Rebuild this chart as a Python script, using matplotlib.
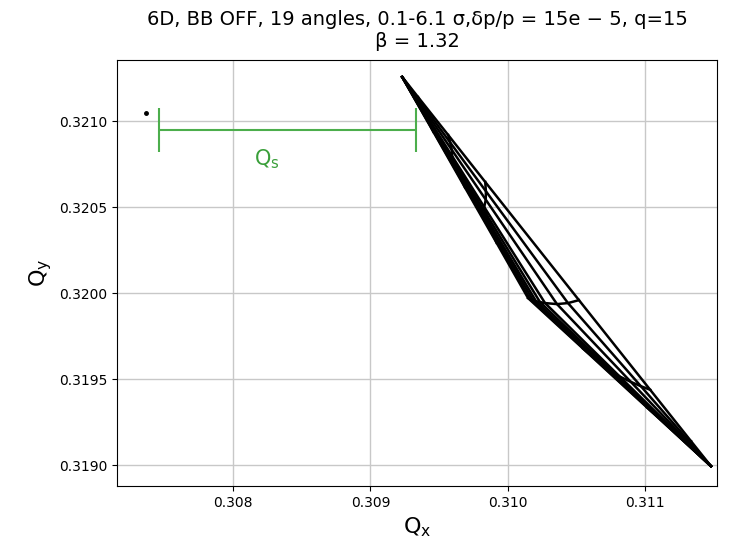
import matplotlib
matplotlib.use('Agg')
import matplotlib.pyplot as plt

# Tune footprint mesh: one list per angle line, nodes ordered by amplitude
# (first node is the common small-amplitude tip, last one the far tip)
qx_lines = [
    [0.309231, 0.309460, 0.309689, 0.309919, 0.310148, 0.310548, 0.311014, 0.311481],
    [0.309231, 0.309445, 0.309669, 0.309897, 0.310163, 0.310598, 0.311052, 0.311481],
    [0.309231, 0.309431, 0.309650, 0.309879, 0.310184, 0.310651, 0.311092, 0.311481],
    [0.309231, 0.309416, 0.309631, 0.309860, 0.310206, 0.310703, 0.311130, 0.311481],
    [0.309231, 0.309401, 0.309612, 0.309844, 0.310235, 0.310758, 0.311169, 0.311481],
    [0.309231, 0.309387, 0.309595, 0.309829, 0.310272, 0.310816, 0.311209, 0.311481],
    [0.309231, 0.309377, 0.309592, 0.309840, 0.310359, 0.310897, 0.311256, 0.311481],
    [0.309231, 0.309364, 0.309581, 0.309841, 0.310439, 0.310970, 0.311298, 0.311481],
    [0.309231, 0.309347, 0.309566, 0.309836, 0.310519, 0.311038, 0.311336, 0.311481],
]
qy_lines = [
    [0.321256, 0.320935, 0.320613, 0.320292, 0.319971, 0.319678, 0.319336, 0.318994],
    [0.321256, 0.320959, 0.320649, 0.320333, 0.319965, 0.319645, 0.319310, 0.318994],
    [0.321256, 0.320984, 0.320685, 0.320374, 0.319959, 0.319612, 0.319284, 0.318994],
    [0.321256, 0.321008, 0.320722, 0.320416, 0.319953, 0.319579, 0.319258, 0.318994],
    [0.321256, 0.321033, 0.320759, 0.320458, 0.319948, 0.319547, 0.319233, 0.318994],
    [0.321256, 0.321059, 0.320796, 0.320500, 0.319942, 0.319515, 0.319207, 0.318994],
    [0.321256, 0.321084, 0.320833, 0.320543, 0.319936, 0.319484, 0.319183, 0.318994],
    [0.321256, 0.321111, 0.320875, 0.320592, 0.319942, 0.319459, 0.319160, 0.318994],
    [0.321256, 0.321139, 0.320919, 0.320646, 0.319959, 0.319438, 0.319139, 0.318994],
]

# nominal tune marker and synchrotron tune bar
q0 = (0.307367, 0.321047)
qs_start = 0.307461
qs_value = 0.001872
qs_y = 0.320948

fig = plt.figure(figsize=(7.33, 5.45), dpi=100)
ax = fig.add_axes([0.16, 0.108, 0.818, 0.782])

# lines of constant angle
for xs, ys in zip(qx_lines, qy_lines):
    ax.plot(xs, ys, color='k', lw=1.8)
# lines of constant amplitude
n_amp = len(qx_lines[0])
for j in range(n_amp):
    ax.plot([xs[j] for xs in qx_lines], [ys[j] for ys in qy_lines], color='k', lw=1.8)

ax.plot(q0[0], q0[1], 'k.', ms=5)

ax.errorbar(qs_start + qs_value / 2, qs_y, xerr=qs_value / 2, color='#4cae4c',
            capsize=16, lw=1.5, capthick=1.5)
ax.text(qs_start + qs_value * 0.37, qs_y - 0.00017, r'$\mathrm{Q_s}$', color='#3a9f3a',
        fontsize=15, va='center')

ax.set_xlim(0.307155, 0.311524)
ax.set_ylim(0.318878, 0.321355)
ax.set_xticks([0.308, 0.309, 0.310, 0.311])
ax.set_yticks([0.3190, 0.3195, 0.3200, 0.3205, 0.3210])
ax.set_yticklabels(['0.3190', '0.3195', '0.3200', '0.3205', '0.3210'])
ax.grid(True, color='#c8c8c8', lw=1)
ax.tick_params(labelsize=10)

ax.set_xlabel(r'$\mathrm{Q_x}$', fontsize=16)
ax.set_ylabel(r'$\mathrm{Q_y}$', fontsize=16)
ax.set_title('6D, BB OFF, 19 angles, 0.1-6.1 \u03c3,\u03b4p/p = 15e \u2212 5, q=15\n\u03b2 = 1.32',
             fontsize=14, pad=9)

fig.savefig('out.png', dpi=100)
